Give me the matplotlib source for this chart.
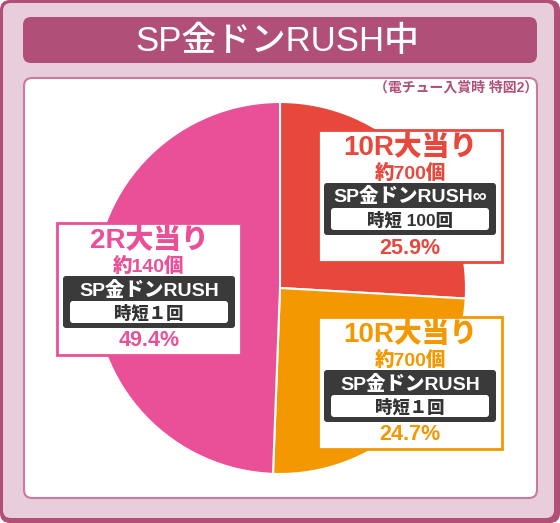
import matplotlib
matplotlib.use('Agg')
import matplotlib.pyplot as plt
from matplotlib.patches import FancyBboxPatch, Rectangle

plt.rcParams['font.family'] = ['Liberation Sans', 'Noto Sans CJK JP', 'DejaVu Sans']

W, H = 560, 523

# chart data (clockwise from 12 o'clock)
share = [25.9, 24.7, 49.4]
rounds = ['10R大当り', '10R大当り', '2R大当り']
payout = ['約700個', '約700個', '約140個']
rush = ['SP金ドンRUSH∞', 'SP金ドンRUSH', 'SP金ドンRUSH']
jitan = ['時短 100回', '時短１回', '時短１回']
colors = ['#e8473c', '#f39800', '#e95098']
title = 'SP金ドンRUSH中'
subtitle = '（電チュー入賞時 特図2）'

frame_dark = '#b05079'
frame_light = '#e8cedb'


def Y(y):
    # top-down pixel coords -> axes coords
    return H - y


def rbox(ax, x0, y0, x1, y1, fc, ec='none', lw=0, r=8, z=1):
    p = FancyBboxPatch((x0, Y(y1)), x1 - x0, y1 - y0,
                       boxstyle='round,pad=0,rounding_size=%g' % r,
                       fc=fc, ec=ec, lw=lw, zorder=z)
    ax.add_patch(p)


fig = plt.figure(figsize=(W / 100, H / 100), dpi=100)
ax = fig.add_axes([0, 0, 1, 1])

# pie
wedges, _ = ax.pie(share, colors=colors, startangle=90, counterclock=False,
                   center=(280, Y(288)), radius=186,
                   wedgeprops=dict(edgecolor='white', linewidth=1.5))
for w in wedges:
    w.set_zorder(3)

ax.set_xlim(0, W)
ax.set_ylim(0, H)
ax.set_aspect('auto')
ax.axis('off')

# frame
rbox(ax, 0, 0, W, H, frame_dark, r=10, z=0.1)
rbox(ax, 3, 3, 554, 518, frame_light, r=8, z=0.2)
rbox(ax, 23, 17, 537, 63, frame_dark, r=8, z=0.3)
rbox(ax, 24, 78, 537, 498, 'white', ec='#c97aa0', lw=1.5, r=8, z=0.4)

ax.text(277, Y(41), title, color='white', fontsize=25, fontweight='medium',
        ha='center', va='center', zorder=5)
ax.text(538, Y(88), subtitle, color=frame_dark, fontsize=10, fontweight='bold',
        ha='right', va='center', zorder=5)

# label boxes: top-left corner in pixels
box_pos = [(318, 130), (318, 317), (57, 223)]
bw, bh = 184, 132

for i, (x0, y0) in enumerate(box_pos):
    c = colors[i]
    cx = x0 + bw / 2
    ax.add_patch(Rectangle((x0, Y(y0 + bh)), bw, bh, fc='white', ec=c,
                           lw=2, zorder=4))
    ax.text(cx, Y(y0 + 18), rounds[i], color=c, fontsize=20, fontweight='heavy',
            ha='center', va='center', zorder=6)
    ax.text(cx, Y(y0 + 43), payout[i], color=c, fontsize=14, fontweight='heavy',
            ha='center', va='center', zorder=6)
    rbox(ax, cx - 86, y0 + 53, cx + 86, y0 + 105, '#3a3a3a', r=3, z=5)
    ax.text(cx, Y(y0 + 67), rush[i], color='white', fontsize=14,
            fontweight='heavy', ha='center', va='center', zorder=6)
    rbox(ax, cx - 79, y0 + 78, cx + 79, y0 + 100, 'white', r=3, z=5.5)
    ax.text(cx, Y(y0 + 90), jitan[i], color='#333333', fontsize=12.5,
            fontweight='heavy', ha='center', va='center', zorder=6)
    ax.text(cx, Y(y0 + 118), '%.1f%%' % share[i], color=c, fontsize=15.5,
            fontweight='heavy', ha='center', va='center', zorder=6)

fig.savefig('out.png', dpi=100)
